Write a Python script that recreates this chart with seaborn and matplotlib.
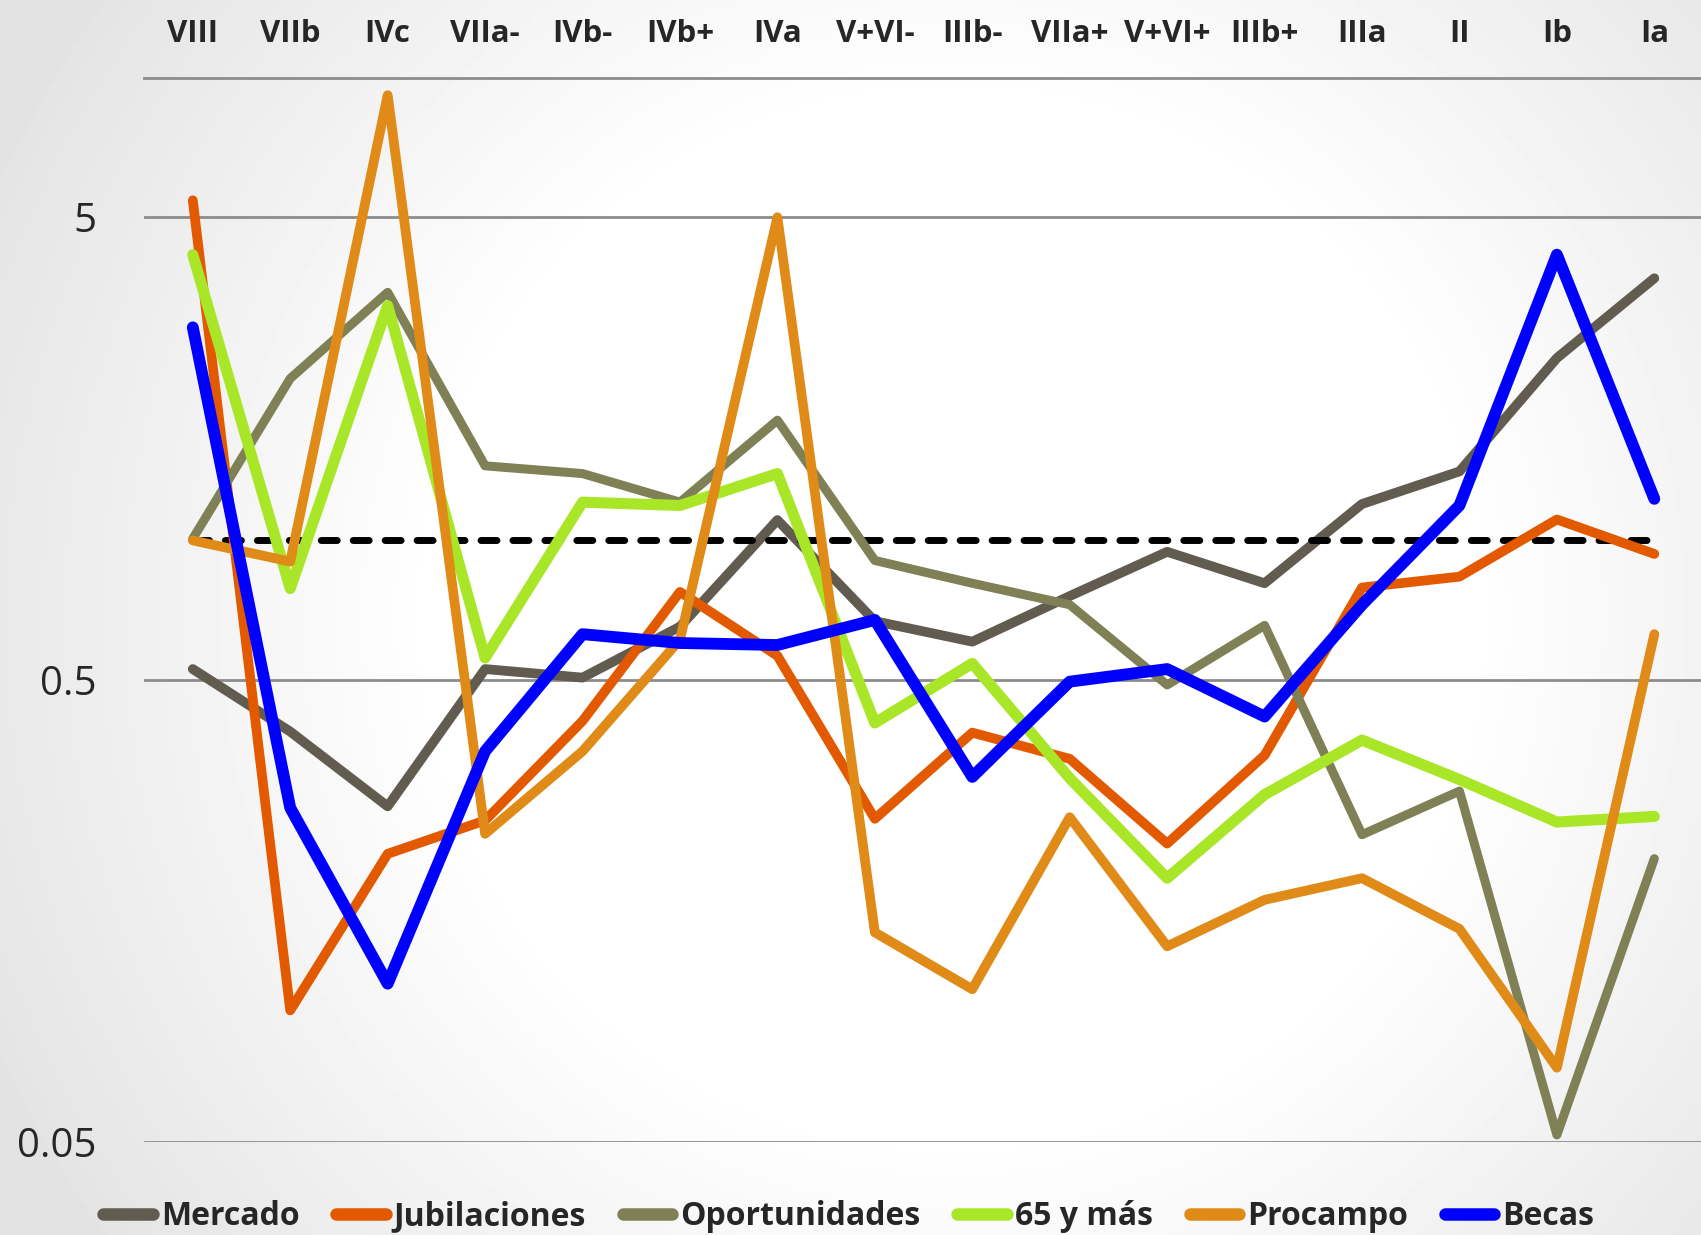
import matplotlib
matplotlib.use("Agg")
import matplotlib.pyplot as plt
from matplotlib.lines import Line2D
import seaborn as sns
import pandas as pd
import numpy as np

# regiones (eje superior)
regiones = ["VIII", "VIIb", "IVc", "VIIa-", "IVb-", "IVb+", "IVa", "V+VI-",
            "IIIb-", "VIIa+", "V+VI+", "IIIb+", "IIIa", "II", "Ib", "Ia"]

mercado = [0.527, 0.386, 0.266, 0.527, 0.505, 0.651, 1.107, 0.669,
           0.604, 0.758, 0.945, 0.808, 1.199, 1.41, 2.48, 3.69]
jubilaciones = [5.44, 0.0963, 0.21, 0.248, 0.407, 0.774, 0.563, 0.25,
                0.384, 0.337, 0.221, 0.343, 0.791, 0.835, 1.11, 0.935]
oportunidades = [1.009, 2.24, 3.44, 1.45, 1.395, 1.21, 1.82, 0.905,
                 0.808, 0.726, 0.487, 0.655, 0.231, 0.287, 0.0518, 0.205]
mas65 = [4.15, 0.787, 3.22, 0.557, 1.21, 1.19, 1.395, 0.403,
         0.542, 0.306, 0.186, 0.282, 0.370, 0.304, 0.246, 0.253]
procampo = [1.0, 0.90, 9.18, 0.232, 0.35, 0.61, 5.0, 0.142,
            0.107, 0.252, 0.1325, 0.167, 0.186, 0.1445, 0.0724, 0.627]
becas = [2.89, 0.264, 0.110, 0.35, 0.627, 0.60, 0.594, 0.673,
         0.308, 0.495, 0.527, 0.416, 0.726, 1.19, 4.15, 1.23]
umbral = 1.0

series = {
    "Mercado": mercado,
    "Jubilaciones": jubilaciones,
    "Oportunidades": oportunidades,
    "65 y más": mas65,
    "Procampo": procampo,
    "Becas": becas,
}
colores = {
    "Mercado": "#625b4f",
    "Jubilaciones": "#e25900",
    "Oportunidades": "#7f8055",
    "65 y más": "#a9e627",
    "Procampo": "#e08a17",
    "Becas": "#0000ff",
}
grosor = {"Mercado": 7, "Jubilaciones": 7, "Oportunidades": 6.5,
          "65 y más": 8, "Procampo": 7, "Becas": 8.5}

sns.set_style("white")
plt.rcParams["font.family"] = ["Open Sans", "DejaVu Sans"]

fig = plt.figure(figsize=(17.01, 12.35), dpi=100)

# fondo degradado tipo diapositiva
bg = fig.add_axes([0, 0, 1, 1], zorder=-1)
yy, xx = np.mgrid[0:1:300j, 0:1:400j]
r = np.sqrt(((xx - 0.56) * 1.38) ** 2 + (yy - 0.5) ** 2)
grad = 1 - 0.11 * np.clip((r - 0.42) / 0.45, 0, 1)
bg.imshow(grad, cmap="gray", vmin=0, vmax=1, aspect="auto", extent=[0, 1, 0, 1])
bg.axis("off")

ax = fig.add_axes([0.0847, 0.0753, 0.9165, 0.8615])
ax.set_facecolor("none")

x = np.arange(len(regiones))
df = pd.DataFrame({"pos": x})
for nombre, vals in series.items():
    df[nombre] = vals

# referencia = 1
sns.lineplot(x=x, y=[umbral] * len(regiones), ax=ax, color="black", lw=5,
             dashes=False, zorder=2.5)
ax.lines[-1].set_dashes((2.3, 2.3))
ax.lines[-1].set_dash_capstyle("round")

for i, (nombre, vals) in enumerate(series.items()):
    sns.lineplot(data=df, x="pos", y=nombre, ax=ax, color=colores[nombre],
                 lw=grosor[nombre], sort=False, zorder=3 + i if i else 2,
                 solid_capstyle="round", solid_joinstyle="round")

ax.set_yscale("log")
ax.set_ylim(0.05, 10)
ax.set_xlim(-0.5, len(regiones) - 0.5)
ax.yaxis.set_minor_locator(matplotlib.ticker.NullLocator())
ax.set_yticks([0.05, 0.5, 5], ["0.05", "0.5", "5"])
ax.grid(axis="y", color="#8c8c8c", lw=2)
ax.grid(axis="x", visible=False)
ax.xaxis.tick_top()
ax.set_xticks(x, regiones, fontweight="bold")
ax.tick_params(axis="x", length=0, pad=21, labelsize=22.5)
ax.tick_params(axis="y", length=0, pad=34, labelsize=29)
ax.set_xlabel("")
ax.set_ylabel("")
for s in ["left", "right", "bottom"]:
    ax.spines[s].set_visible(False)
ax.spines["top"].set_color("#8c8c8c")
ax.spines["top"].set_linewidth(2)

handles = [Line2D([], [], color=colores[n], lw=9, solid_capstyle="round")
           for n in series]
fig.legend(handles, list(series.keys()), loc="center", ncol=6,
           bbox_to_anchor=(0.499, 0.015), frameon=False,
           prop={"weight": "bold", "size": 23}, handlelength=1.55,
           handletextpad=0.25, columnspacing=1.15)

fig.savefig("out.png", dpi=100)
